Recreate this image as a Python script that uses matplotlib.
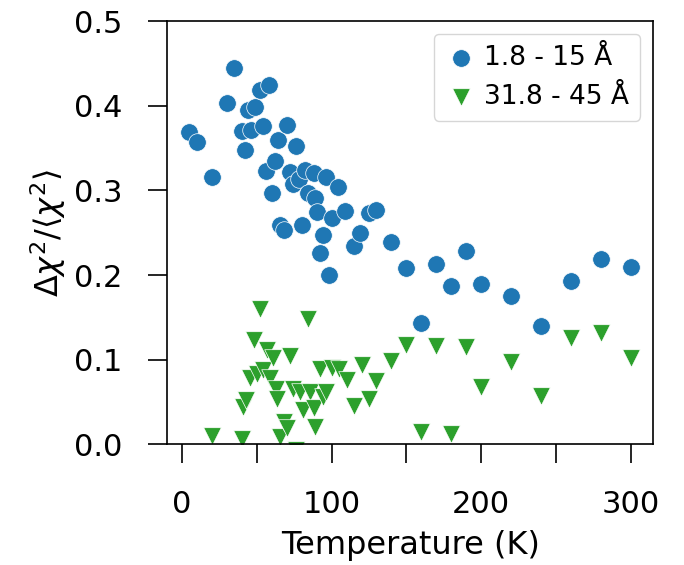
import matplotlib
matplotlib.use("Agg")
import matplotlib.pyplot as plt
from matplotlib.ticker import MultipleLocator

# Données : fenêtre 1.8 - 15 Å (cercles bleus)
temp_court = [5, 10, 20, 30, 35, 40, 42, 44, 46, 49, 52, 54, 56, 58, 60, 62, 64,
              65.5, 68, 70, 72, 74, 76, 78, 80, 82, 84.5, 88, 89, 90, 92, 94, 96,
              98, 100, 104.5, 109, 115, 119, 125, 130, 140, 150, 160, 170, 180,
              190, 200, 220, 240, 260, 280, 300]
chi_court = [0.369, 0.357, 0.316, 0.403, 0.444, 0.370, 0.348, 0.395, 0.371, 0.399,
             0.419, 0.376, 0.323, 0.424, 0.297, 0.335, 0.360, 0.259, 0.253, 0.377,
             0.322, 0.308, 0.352, 0.313, 0.259, 0.324, 0.297, 0.320, 0.291, 0.275,
             0.226, 0.247, 0.316, 0.200, 0.267, 0.304, 0.276, 0.234, 0.250, 0.273,
             0.277, 0.239, 0.208, 0.143, 0.213, 0.187, 0.229, 0.190, 0.175, 0.140,
             0.193, 0.219, 0.210]

# Fenêtre 31.8 - 45 Å (triangles verts)
temp_long = [20, 40, 41, 43, 45.5, 48, 50, 52, 54, 57, 59, 61, 63, 63.5, 65.5, 68,
             70, 72, 74.5, 76, 79, 81, 84, 85.5, 88, 89, 92, 94.5, 96.5, 100, 105,
             110, 115, 120, 125, 130, 140, 150, 160, 170, 180, 190, 200, 220, 240,
             260, 280, 300]
chi_long = [0.010, 0.007, 0.044, 0.052, 0.078, 0.123, 0.083, 0.160, 0.088, 0.111,
            0.078, 0.102, 0.066, 0.054, 0.009, 0.026, 0.019, 0.105, 0.066, -0.007,
            0.062, 0.041, 0.148, 0.062, 0.043, 0.021, 0.089, 0.056, 0.062, 0.090,
            0.089, 0.076, 0.045, 0.094, 0.054, 0.075, 0.098, 0.117, 0.015, 0.116,
            0.012, 0.115, 0.068, 0.097, 0.057, 0.126, 0.132, 0.102]

fig = plt.figure(figsize=(6.84, 5.65), dpi=100)
ax = fig.add_axes([0.2446, 0.2133, 0.7101, 0.7495])

ax.scatter(temp_court, chi_court, s=160, marker="o", color="#1f77b4",
           edgecolors="white", linewidths=0.5, label="1.8 - 15 Å")
ax.scatter(temp_long, chi_long, s=160, marker="v", color="#2ca02c",
           edgecolors="white", linewidths=0.5, label="31.8 - 45 Å")

ax.set_ylim(0, 0.5)
ax.xaxis.set_major_locator(MultipleLocator(100))
ax.xaxis.set_minor_locator(MultipleLocator(50))
ax.yaxis.set_major_locator(MultipleLocator(0.1))

# Ticks longs vers l'extérieur, même taille pour les mineurs, labels bien écartés
ax.tick_params(axis="both", which="both", direction="out", length=13.5,
               width=1.2, labelsize=22, pad=19)
for spine in ax.spines.values():
    spine.set_linewidth(1.2)

ax.set_xlabel("Temperature (K)", fontsize=23, labelpad=8)
ax.set_ylabel(r"$\Delta\chi^2/\langle\chi^2\rangle$", fontsize=23, labelpad=4)

ax.legend(loc="upper right", fontsize=19, handletextpad=0.3, borderpad=0.4,
          handlelength=1.2)

fig.savefig("out.png", dpi=100)
